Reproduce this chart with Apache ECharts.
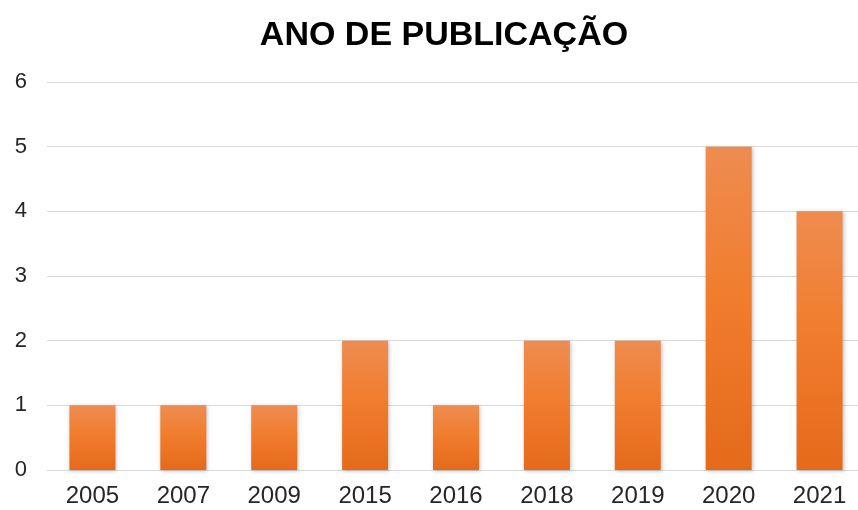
<!DOCTYPE html>
<html><head><meta charset="utf-8">
<script src="https://cdn.jsdelivr.net/npm/echarts@6/dist/echarts.min.js"></script>
<style>html,body{margin:0;padding:0;background:#fff;overflow:hidden}#c{width:870px;height:510px}</style>
</head><body><div id="c"></div>
<script>
const categories = ['2005','2007','2009','2015','2016','2018','2019','2020','2021'];
const values = [1,1,1,2,1,2,2,5,4];
const yTicks = [0,1,2,3,4,5,6];
const titleText = 'ANO DE PUBLICAÇÃO';

const chart = echarts.init(document.getElementById('c'), null, {renderer:'canvas'});
chart.setOption({
  animation:false,
  backgroundColor:'#fff',
  title:{text:titleText,left:439,top:14,textAlign:'center',
    textStyle:{fontFamily:'Liberation Sans, Arial',fontSize:34,fontWeight:'bold',color:'#000'}},
  grid:{left:47,width:818,top:82,height:388,containLabel:false},
  xAxis:{type:'category',data:categories,
    axisLine:{show:false},axisTick:{show:false},
    axisLabel:{fontFamily:'Liberation Sans, Arial',fontSize:24,color:'#262626',margin:14}},
  yAxis:{type:'value',min:0,max:6,interval:1,
    axisLabel:{fontFamily:'Liberation Sans, Arial',fontSize:22,color:'#262626',margin:20,
      formatter:v=>yTicks.includes(v)?String(v):''},
    splitLine:{lineStyle:{color:'#d9d9d9',width:1}},
    axisLine:{show:false},axisTick:{show:false}},
  series:[{type:'bar',data:values,barWidth:46,
    itemStyle:{
      color:new echarts.graphic.LinearGradient(0,0,0,1,[
        {offset:0,color:'#EE8C50'},{offset:0.45,color:'#F17D2E'},{offset:1,color:'#E56A1A'}]),
      shadowColor:'rgba(0,0,0,0.25)',shadowBlur:4,shadowOffsetX:1,shadowOffsetY:1}
  }]
});
</script></body></html>
